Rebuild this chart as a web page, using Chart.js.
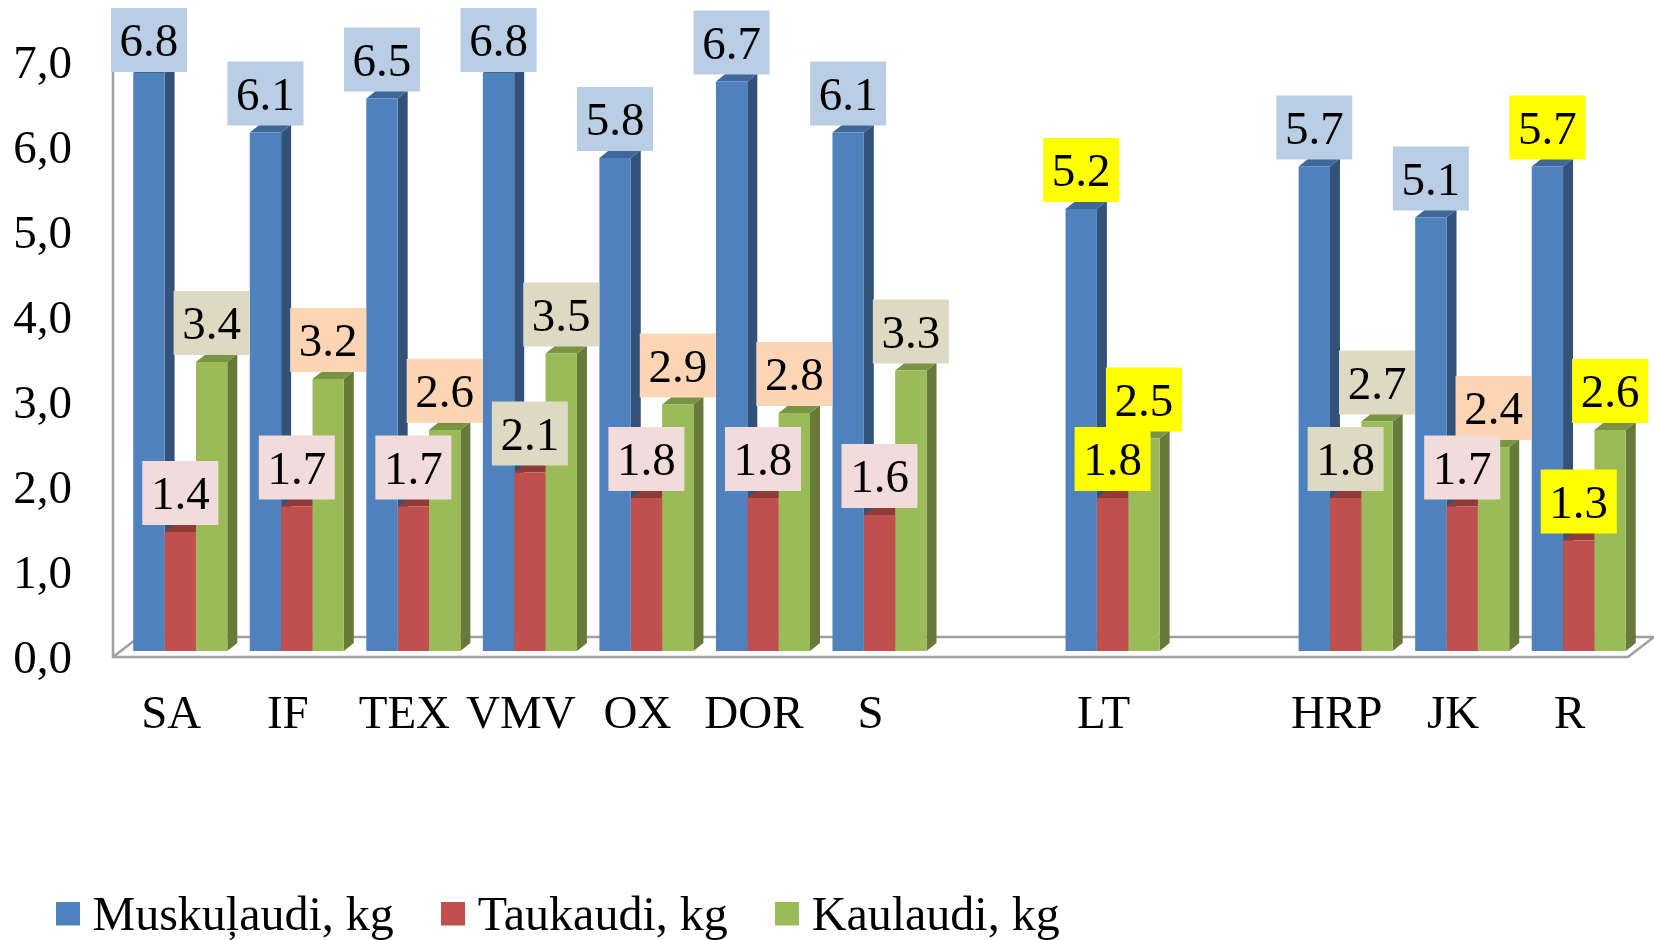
<!DOCTYPE html>
<html>
<head>
<meta charset="utf-8">
<style>
  html, body { margin: 0; background: #fff; }
  canvas { display: block; }
</style>
<script src="https://cdn.jsdelivr.net/npm/chart.js@4/dist/chart.umd.js"></script>
</head>
<body>
<canvas id="chart" width="1654" height="940"></canvas>
<script>
const categories = ['SA', 'IF', 'TEX', 'VMV', 'OX', 'DOR', 'S', '', 'LT', '', 'HRP', 'JK', 'R'];
const muskulaudi = [6.8, 6.1, 6.5, 6.8, 5.8, 6.7, 6.1, null, 5.2, null, 5.7, 5.1, 5.7];
const taukaudi = [1.4, 1.7, 1.7, 2.1, 1.8, 1.8, 1.6, null, 1.8, null, 1.8, 1.7, 1.3];
const kaulaudi = [3.4, 3.2, 2.6, 3.5, 2.9, 2.8, 3.3, null, 2.5, null, 2.7, 2.4, 2.6];
const yTickLabels = ['0,0', '1,0', '2,0', '3,0', '4,0', '5,0', '6,0', '7,0'];

// label box colours
const B = '#B9CDE5', P = '#F2DCDB', D = '#DDD9C3', O = '#FCD5B5', Y = '#FFFF00';
const muskulaudiBoxes = [B, B, B, B, B, B, B, null, Y, null, B, B, Y];
const taukaudiBoxes = [P, P, P, D, P, P, P, null, Y, null, D, P, Y];
const kaulaudiBoxes = [D, O, O, D, O, O, D, null, Y, null, D, O, Y];

const FONT = '"Liberation Serif", "Times New Roman", serif';
const DEPTH_X = 10, DEPTH_Y = 8;   // 3d look of the bars
const SHIFT_X = -9, SHIFT_Y = 6;   // front edge of the floor vs. the bars

const seriesLook = [
    { front: '#4F81BD', side: '#325279', top: '#3F6797', boxes: muskulaudiBoxes },
    { front: '#C0504D', side: '#8A3A38', top: '#8F3B39', boxes: taukaudiBoxes },
    { front: '#9BBB59', side: '#677A3A', top: '#7A9445', boxes: kaulaudiBoxes }
];

// floor, left wall edge and the side/top faces of the bars
const depthPlugin = {
    id: 'depth',
    beforeDraw(chart) {
        // legend row sits lower and further left than the box layout gives it
        const legend = chart.legend;
        legend.left = 8.5;
        legend.top = 893.5 - legend.options.labels.padding;
    },
    beforeDatasetsDraw(chart) {
        const { ctx, chartArea: a } = chart;
        const fl = a.left + SHIFT_X, fr = a.right + SHIFT_X, fy = a.bottom + SHIFT_Y;
        ctx.save();
        ctx.strokeStyle = '#A0A0A0';
        ctx.lineWidth = 2.5;
        ctx.beginPath();
        ctx.moveTo(fl, 60);
        ctx.lineTo(fl, fy);
        ctx.lineTo(fr, fy);
        ctx.lineTo(fr + 26, fy - 20);
        ctx.lineTo(fl + 26, fy - 20);
        ctx.lineTo(fl, fy);
        ctx.stroke();

        chart.data.datasets.forEach((ds, i) => {
            chart.getDatasetMeta(i).data.forEach((el, k) => {
                if (ds.data[k] === null) return;
                const l = el.x - el.width / 2, r = el.x + el.width / 2;
                ctx.fillStyle = seriesLook[i].side;
                ctx.beginPath();
                ctx.moveTo(r, el.base);
                ctx.lineTo(r + DEPTH_X, el.base - DEPTH_Y);
                ctx.lineTo(r + DEPTH_X, el.y - DEPTH_Y);
                ctx.lineTo(r, el.y);
                ctx.fill();
                ctx.fillStyle = seriesLook[i].top;
                ctx.beginPath();
                ctx.moveTo(l, el.y);
                ctx.lineTo(l + DEPTH_X, el.y - DEPTH_Y);
                ctx.lineTo(r + DEPTH_X, el.y - DEPTH_Y);
                ctx.lineTo(r, el.y);
                ctx.fill();
            });
        });
        ctx.restore();
    },
    afterDatasetsDraw(chart) {
        const { ctx } = chart;
        ctx.save();
        ctx.font = '47px ' + FONT;
        ctx.textAlign = 'center';
        ctx.textBaseline = 'middle';
        // green boxes go under the red ones where they touch
        [0, 2, 1].forEach(i => {
            const ds = chart.data.datasets[i];
            chart.getDatasetMeta(i).data.forEach((el, k) => {
                if (ds.data[k] === null) return;
                const w = 76, h = 64;
                const top = Math.max(8, el.y - 7 - h);
                ctx.fillStyle = seriesLook[i].boxes[k];
                ctx.fillRect(el.x - w / 2, top, w, h);
                ctx.fillStyle = '#000';
                ctx.fillText(ds.data[k].toFixed(1), el.x, top + h / 2 + 4);
            });
        });
        ctx.restore();
    }
};

function swatch(color) {
    // taller than the square so the square sits above the text middle
    const c = document.createElement('canvas');
    c.width = 24; c.height = 32;
    const g = c.getContext('2d');
    g.fillStyle = color;
    g.fillRect(0, 0, 24, 24);
    return c;
}

new Chart(document.getElementById('chart'), {
    type: 'bar',
    plugins: [depthPlugin],
    data: {
        labels: categories,
        datasets: [
            { label: 'Muskuļaudi, kg', data: muskulaudi, backgroundColor: seriesLook[0].front },
            { label: 'Taukaudi, kg', data: taukaudi, backgroundColor: seriesLook[1].front },
            { label: 'Kaulaudi, kg', data: kaulaudi, backgroundColor: seriesLook[2].front }
        ]
    },
    options: {
        responsive: false,
        animation: false,
        layout: { padding: { top: 56, right: 17, left: 0, bottom: 0 } },
        datasets: { bar: { categoryPercentage: 0.807, barPercentage: 1 } },
        plugins: {
            tooltip: { enabled: false },
            legend: {
                position: 'bottom',
                align: 'start',
                labels: {
                    color: '#000',
                    font: { family: FONT, size: 48 },
                    padding: 59,
                    usePointStyle: true,
                    pointStyleWidth: 1,
                    generateLabels: chart => Chart.defaults.plugins.legend.labels.generateLabels(chart)
                        .map((item, i) => ({ ...item, pointStyle: swatch(seriesLook[i].front) }))
                }
            }
        },
        scales: {
            x: {
                grid: { display: false, drawTicks: false },
                border: { display: false },
                ticks: {
                    color: '#000',
                    font: { family: FONT, size: 47 },
                    autoSkip: false,
                    maxRotation: 0,
                    padding: 36,
                    labelOffset: SHIFT_X
                },
                afterFit: s => { s.height = 289 - s.chart.legend.height; }
            },
            y: {
                min: 0,
                max: 7,
                grid: { display: false, drawTicks: false },
                border: { display: false },
                ticks: {
                    stepSize: 1,
                    color: '#000',
                    font: { family: FONT, size: 47 },
                    padding: 50,
                    labelOffset: SHIFT_Y + 4,
                    callback: (v, i) => yTickLabels[i]
                },
                afterFit: s => { s.width = 122; s.paddingTop = 0; s.paddingBottom = 0; }
            }
        }
    }
});
</script>
</body>
</html>
